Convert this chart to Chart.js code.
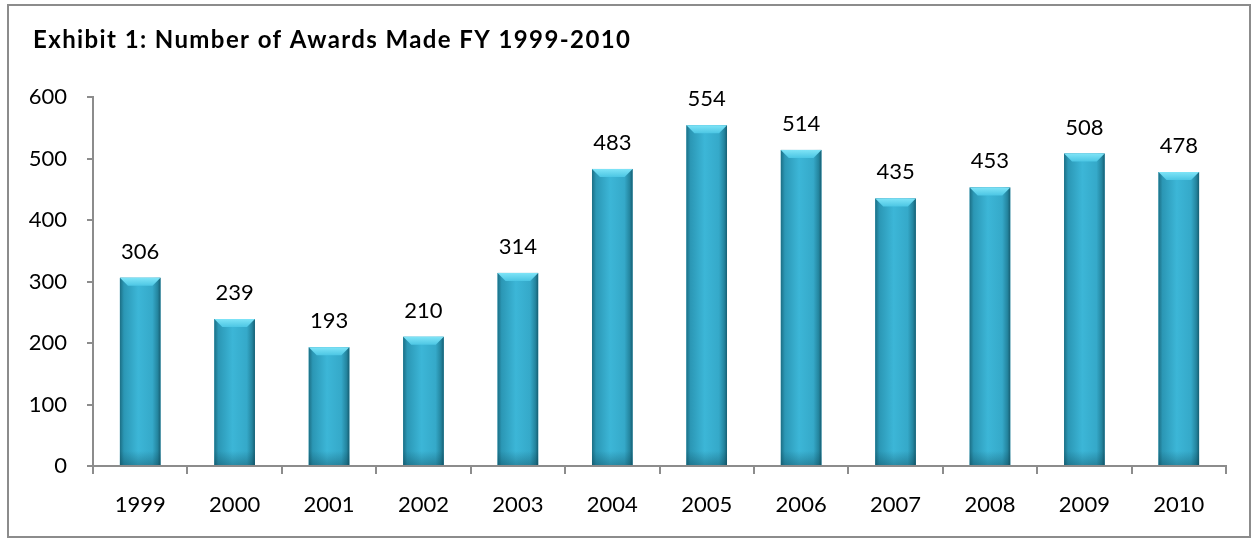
<!DOCTYPE html>
<html>
<head>
<meta charset="utf-8">
<script src="https://cdn.jsdelivr.net/npm/chart.js@4/dist/chart.umd.min.js"></script>
<style>
  body { margin: 0; background: #fff; }
  #wrap { position: relative; width: 1255px; height: 539px; }
  #frame { position: absolute; left: 7px; top: 4px; width: 1240px; height: 530px; border: 2px solid #8c8c8c; pointer-events: none; }
</style>
</head>
<body>
<div id="wrap">
  <canvas id="bar-chart" width="1255" height="539"></canvas>
  <div id="frame"></div>
</div>
<script>
// datos del grafico
const years = ["1999", "2000", "2001", "2002", "2003", "2004", "2005", "2006", "2007", "2008", "2009", "2010"]
const awards = [306, 239, 193, 210, 314, 483, 554, 514, 435, 453, 508, 478]
const yTicks = [0, 100, 200, 300, 400, 500, 600]
const titulo = "Exhibit 1: Number of Awards Made FY 1999-2010"

const fuente = "Lato, 'Open Sans', sans-serif"

//* titulo arriba a la izquierda
const tituloPlugin = {
  id: "tituloPlugin",
  afterDraw(chart) {
    const ctx = chart.ctx
    ctx.save()
    ctx.font = "bold 24px " + fuente
    ctx.fillStyle = "#000"
    ctx.textBaseline = "alphabetic"
    const ancho = ctx.measureText(titulo).width
    const extra = Math.max(0, (597 - ancho) / (titulo.length - 1))
    if ("letterSpacing" in ctx) ctx.letterSpacing = extra.toFixed(2) + "px"
    ctx.fillText(titulo, 33, 48)
    ctx.restore()
  },
}

//* barras con efecto 3d (gradiente + bisel superior)
const barras3d = {
  id: "barras3d",
  afterDatasetsDraw(chart) {
    const ctx = chart.ctx
    chart.getDatasetMeta(0).data.forEach((bar) => {
      const w = bar.width
      const x0 = bar.x - w / 2
      const top = bar.y
      const bottom = bar.base
      const g = ctx.createLinearGradient(x0, 0, x0 + w, 0)
      g.addColorStop(0, "#1c6f85")
      g.addColorStop(0.1, "#2b97b5")
      g.addColorStop(0.45, "#3cb6d7")
      g.addColorStop(0.8, "#35a9c9")
      g.addColorStop(0.93, "#24859f")
      g.addColorStop(1, "#175e72")
      ctx.save()
      ctx.fillStyle = g
      ctx.fillRect(x0, top, w, bottom - top)
      // sombra en la base
      const gb = ctx.createLinearGradient(0, bottom - 14, 0, bottom)
      gb.addColorStop(0, "rgba(10,60,75,0)")
      gb.addColorStop(1, "rgba(10,60,75,0.35)")
      ctx.fillStyle = gb
      ctx.fillRect(x0, bottom - 14, w, 14)
      // bisel superior
      const b = 8
      const gt = ctx.createLinearGradient(0, top, 0, top + b)
      gt.addColorStop(0, "#7fe4f7")
      gt.addColorStop(1, "#4cc6e4")
      ctx.beginPath()
      ctx.moveTo(x0, top)
      ctx.lineTo(x0 + w, top)
      ctx.lineTo(x0 + w - b, top + b)
      ctx.lineTo(x0 + b, top + b)
      ctx.closePath()
      ctx.fillStyle = gt
      ctx.fill()
      ctx.restore()
    })
  },
}

//* etiquetas de valor encima de cada barra
const etiquetas = {
  id: "etiquetas",
  afterDatasetsDraw(chart) {
    const ctx = chart.ctx
    const meta = chart.getDatasetMeta(0)
    ctx.save()
    ctx.font = "22px " + fuente
    ctx.fillStyle = "#000"
    ctx.textAlign = "center"
    ctx.textBaseline = "alphabetic"
    meta.data.forEach((bar, i) => {
      ctx.fillText(String(awards[i]), bar.x, bar.y - 19)
    })
    ctx.restore()
  },
}

const contenedor = document.querySelector("#bar-chart").getContext("2d")
const chart = new Chart(contenedor, {
  type: "bar",
  data: {
    labels: years,
    datasets: [
      {
        data: awards,
        backgroundColor: "#36aecf",
        barPercentage: 0.86,
        categoryPercentage: 0.5,
      },
    ],
  },
  options: {
    responsive: false,
    animation: false,
    layout: { padding: { left: 0, right: 29, top: 97, bottom: 0 } },
    plugins: {
      legend: { display: false },
      tooltip: { enabled: false },
      title: { display: false },
    },
    scales: {
      x: {
        grid: { display: true, drawOnChartArea: false, offset: true, tickLength: 8, color: "#8c8c8c", lineWidth: 2 },
        border: { color: "#8c8c8c", width: 2 },
        ticks: { color: "#000", font: { family: fuente, size: 22 }, padding: 18 },
        afterFit(scale) { scale.height = 73 },
      },
      y: {
        min: 0,
        max: 600,
        afterBuildTicks(scale) { scale.ticks = yTicks.map((v) => ({ value: v })) },
        grid: { display: true, drawOnChartArea: false, tickLength: 6, color: "#8c8c8c", lineWidth: 2 },
        border: { color: "#8c8c8c", width: 2 },
        ticks: { color: "#000", font: { family: fuente, size: 22 }, padding: 20 },
        afterFit(scale) { scale.width = 93 },
      },
    },
  },
  plugins: [barras3d, etiquetas, tituloPlugin],
})
</script>
</body>
</html>
